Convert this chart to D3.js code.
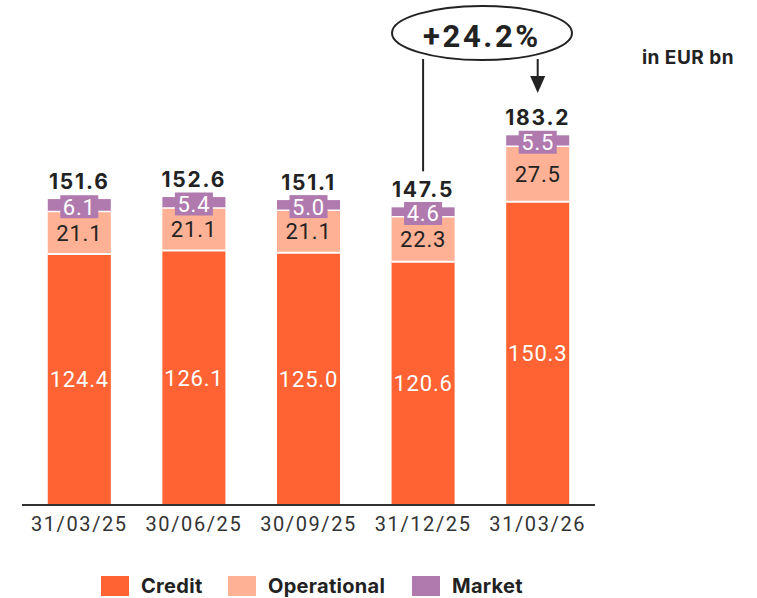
<!DOCTYPE html>
<html>
<head>
<meta charset="utf-8">
<script src="https://cdn.jsdelivr.net/npm/d3@7"></script>
<style>
  body { margin: 0; background: #fff; }
  svg { display: block; }
</style>
</head>
<body>
<div id="content"></div>
<script>
// values in EUR bn
var dates = ["31/03/25", "30/06/25", "30/09/25", "31/12/25", "31/03/26"];
var credit = [124.4, 126.1, 125.0, 120.6, 150.3];
var operational = [21.1, 21.1, 21.1, 22.3, 27.5];
var market = [6.1, 5.4, 5.0, 4.6, 5.5];
var totals = [151.6, 152.6, 151.1, 147.5, 183.2];
var growthLabel = "+24.2%";
var unitLabel = "in EUR bn";

var colors = { Credit: "#ff6333", Operational: "#ffb195", Market: "#b07aae" };
var width = 757, height = 598;

var svg = d3.select("#content").append("svg")
  .attr("width", width)
  .attr("height", height);

var x = d3.scaleBand().domain(dates).range([22, 595]).paddingInner(0.45).paddingOuter(0.225);
var y = d3.scaleLinear().domain([0, 200]).range([505, 101.4]);

var rows = dates.map(function (d, i) {
  return { date: d, credit: credit[i], operational: operational[i], market: market[i], total: totals[i] };
});

var bars = svg.selectAll("g.bar").data(rows).enter().append("g").attr("class", "bar");

// credit
bars.append("rect")
  .attr("x", function (d) { return x(d.date); })
  .attr("width", x.bandwidth())
  .attr("y", function (d) { return y(d.credit); })
  .attr("height", function (d) { return y(0) - y(d.credit); })
  .attr("fill", colors.Credit);

// operational
bars.append("rect")
  .attr("x", function (d) { return x(d.date); })
  .attr("width", x.bandwidth())
  .attr("y", function (d) { return y(d.credit + d.operational); })
  .attr("height", function (d) { return y(d.credit) - y(d.credit + d.operational); })
  .attr("fill", colors.Operational);

// market
bars.append("rect")
  .attr("x", function (d) { return x(d.date); })
  .attr("width", x.bandwidth())
  .attr("y", function (d) { return y(d.total); })
  .attr("height", function (d) { return y(d.credit + d.operational) - y(d.total); })
  .attr("fill", colors.Market);

// white separators
bars.append("line")
  .attr("x1", function (d) { return x(d.date); })
  .attr("x2", function (d) { return x(d.date) + x.bandwidth(); })
  .attr("y1", function (d) { return y(d.credit); })
  .attr("y2", function (d) { return y(d.credit); })
  .attr("stroke", "#fff").attr("stroke-width", 2);
bars.append("line")
  .attr("x1", function (d) { return x(d.date); })
  .attr("x2", function (d) { return x(d.date) + x.bandwidth(); })
  .attr("y1", function (d) { return y(d.credit + d.operational); })
  .attr("y2", function (d) { return y(d.credit + d.operational); })
  .attr("stroke", "#fff").attr("stroke-width", 1.5);

var cx = function (d) { return x(d.date) + x.bandwidth() / 2; };

function segText(sel) {
  sel.attr("text-anchor", "middle")
    .attr("dy", "0.36em")
    .style("font-family", "Roboto, sans-serif")
    .style("font-size", "22px")
    .style("letter-spacing", "0.8px");
}

bars.append("text")
  .attr("x", cx)
  .attr("y", function (d) { return (y(0) + y(d.credit)) / 2; })
  .call(segText)
  .attr("fill", "#fff")
  .text(function (d) { return d.credit.toFixed(1); });

bars.append("text")
  .attr("x", cx)
  .attr("y", function (d) { return (y(d.credit) + y(d.credit + d.operational)) / 2; })
  .call(segText)
  .attr("fill", "#222")
  .text(function (d) { return d.operational.toFixed(1); });

// market label box
bars.append("rect")
  .attr("x", function (d) { return cx(d) - 19; })
  .attr("y", function (d) { return (y(d.total) + y(d.credit + d.operational)) / 2 - 10; })
  .attr("width", 38)
  .attr("height", 23)
  .attr("fill", colors.Market);

bars.append("text")
  .attr("x", cx)
  .attr("y", function (d) { return (y(d.total) + y(d.credit + d.operational)) / 2 + 1.5; })
  .call(segText)
  .attr("fill", "#fff")
  .text(function (d) { return d.market.toFixed(1); });

bars.append("text")
  .attr("x", cx)
  .attr("y", function (d) { return y(d.total) - 10; })
  .attr("text-anchor", "middle")
  .style("font-family", "Inter, sans-serif")
  .style("font-size", "21px")
  .style("font-weight", "bold")
  .style("letter-spacing", "1.8px")
  .attr("fill", "#222")
  .text(function (d) { return d.total.toFixed(1); });

// x axis
var xAxis = svg.append("g")
  .attr("transform", "translate(0," + y(0) + ")")
  .call(d3.axisBottom(x).tickSize(0).tickPadding(12));
xAxis.select(".domain").attr("stroke", "#333").attr("stroke-width", 2).attr("d", "M22,0H595");
xAxis.selectAll("text")
  .style("font", "20px Roboto, sans-serif")
  .style("letter-spacing", "1.6px")
  .attr("fill", "#333");

// growth annotation
var i0 = 3, i1 = 4;
var ex = 482, ey = 33;
svg.append("line")
  .attr("x1", cx(rows[i0])).attr("x2", cx(rows[i0]))
  .attr("y1", y(totals[i0]) - 36).attr("y2", ey + 26)
  .attr("stroke", "#222").attr("stroke-width", 2);
svg.append("line")
  .attr("x1", cx(rows[i1])).attr("x2", cx(rows[i1]))
  .attr("y1", ey + 26).attr("y2", 78)
  .attr("stroke", "#222").attr("stroke-width", 2);
svg.append("path")
  .attr("d", "M" + (cx(rows[i1]) - 7.5) + ",76L" + (cx(rows[i1]) + 7.5) + ",76L" + cx(rows[i1]) + ",93Z")
  .attr("fill", "#222");
svg.append("ellipse")
  .attr("cx", ex).attr("cy", ey)
  .attr("rx", 90).attr("ry", 27)
  .attr("fill", "#fff")
  .attr("stroke", "#222").attr("stroke-width", 2);
svg.append("text")
  .attr("x", ex).attr("y", ey + 3)
  .attr("dy", "0.36em")
  .attr("text-anchor", "middle")
  .style("font", "bold 31px Roboto, sans-serif")
  .style("letter-spacing", "2.6px")
  .attr("fill", "#222")
  .text(growthLabel);

svg.append("text")
  .attr("x", 688).attr("y", 57)
  .attr("dy", "0.36em")
  .attr("text-anchor", "middle")
  .style("font", "bold 19px Inter, sans-serif")
  .style("letter-spacing", "0.5px")
  .attr("fill", "#222")
  .text(unitLabel);

// legend
var legendItems = ["Credit", "Operational", "Market"];
var legendX = [101, 228, 412];
var legend = svg.selectAll("g.legend").data(legendItems).enter().append("g")
  .attr("class", "legend")
  .attr("transform", function (d, i) { return "translate(" + legendX[i] + ",576)"; });
legend.append("rect").attr("width", 28).attr("height", 20)
  .attr("fill", function (d) { return colors[d]; });
legend.append("text")
  .attr("x", 40).attr("y", 10).attr("dy", "0.36em")
  .style("font", "bold 20px Inter, sans-serif")
  .style("letter-spacing", "0.3px")
  .attr("fill", "#222")
  .text(function (d) { return d; });
</script>
</body>
</html>
